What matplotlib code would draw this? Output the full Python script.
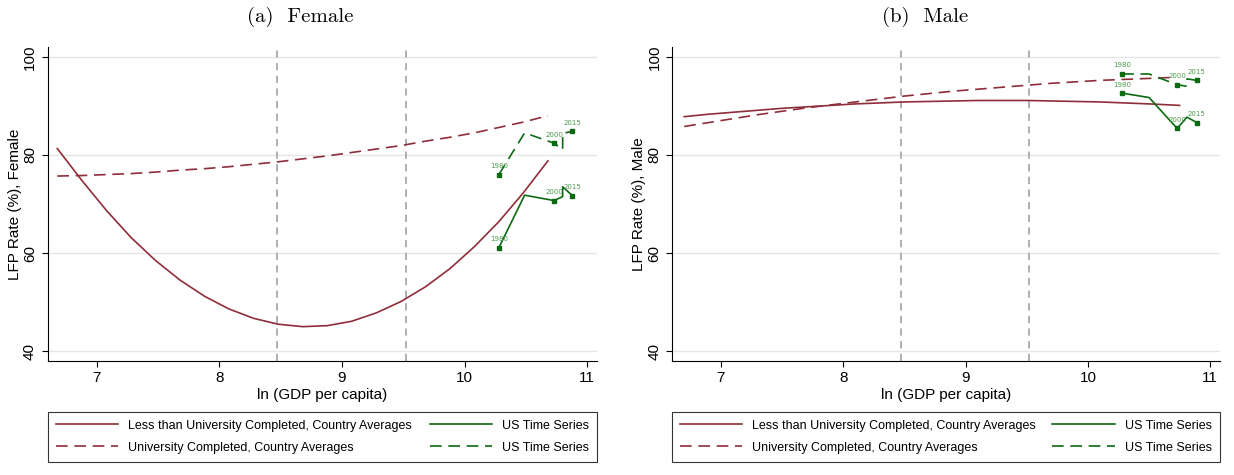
import numpy as np
import matplotlib.pyplot as plt

plt.rcParams['font.family'] = ['Liberation Sans', 'DejaVu Sans']

# ---- data ----
# country-average quadratic fits, female
f_less_x = [6.68, 6.88, 7.08, 7.28, 7.48, 7.68, 7.88, 8.08, 8.28, 8.48, 8.68,
            8.88, 9.08, 9.28, 9.48, 9.68, 9.88, 10.08, 10.28, 10.48, 10.68]
f_less_y = [81.3, 74.8, 68.7, 63.2, 58.5, 54.5, 51.2, 48.6, 46.7, 45.5, 45.0,
            45.2, 46.1, 47.8, 50.1, 53.1, 56.8, 61.3, 66.4, 72.3, 78.8]
f_univ_x = [6.68, 6.88, 7.08, 7.28, 7.48, 7.68, 7.88, 8.08, 8.28, 8.48, 8.68,
            8.88, 9.08, 9.28, 9.48, 9.68, 9.88, 10.08, 10.28, 10.48, 10.68]
f_univ_y = [75.7, 75.8, 76.0, 76.2, 76.5, 76.9, 77.2, 77.6, 78.1, 78.6, 79.2,
            79.8, 80.5, 81.2, 81.9, 82.8, 83.6, 84.5, 85.6, 86.7, 88.0]

# country-average quadratic fits, male
m_less_x = [6.70, 6.90, 7.10, 7.30, 7.50, 7.70, 7.90, 8.10, 8.30, 8.50, 8.70,
            8.90, 9.10, 9.30, 9.50, 9.70, 9.90, 10.10, 10.30, 10.50, 10.75]
m_less_y = [87.8, 88.3, 88.7, 89.1, 89.5, 89.8, 90.1, 90.4, 90.6, 90.8, 90.9,
            91.0, 91.1, 91.1, 91.1, 91.0, 90.9, 90.8, 90.6, 90.4, 90.1]
m_univ_x = [6.70, 6.90, 7.10, 7.30, 7.50, 7.70, 7.90, 8.10, 8.30, 8.50, 8.70,
            8.90, 9.10, 9.30, 9.50, 9.70, 9.90, 10.10, 10.30, 10.50, 10.69]
m_univ_y = [85.8, 86.6, 87.4, 88.2, 88.9, 89.6, 90.2, 90.8, 91.4, 92.0, 92.5,
            93.0, 93.4, 93.8, 94.2, 94.6, 94.9, 95.2, 95.4, 95.6, 95.8]

# US time series: 1980, 1990, 2000, 2005, 2010, 2015
us_years = [1980, 1990, 2000, 2005, 2010, 2015]
us_x = [10.28, 10.49, 10.73, 10.80, 10.80, 10.88]
us_f_less = [61.1, 71.8, 70.7, 71.5, 73.5, 71.7]
us_f_univ = [76.0, 84.5, 82.4, 81.1, 84.4, 84.8]
us_m_x = [10.28, 10.50, 10.73, 10.81, 10.81, 10.89]
us_m_less = [92.6, 91.7, 85.4, 87.7, 87.7, 86.6]
us_m_univ = [96.5, 96.5, 94.3, 94.0, 95.5, 95.2]
labelled = [1980, 2000, 2015]

vlines = [8.47, 9.52]

red = '#8f2d3a'
green = '#0b6a12'
lblgreen = '#4d9a4d'

fig = plt.figure(figsize=(12.34, 4.75), dpi=100)
ax1 = fig.add_axes([47.5/1234, 1-361/475, (597-47.5)/1234, (361-47)/475])
ax2 = fig.add_axes([672/1234, 1-361/475, (1220-672)/1234, (361-47)/475])


def panel(ax, less_x, less_y, univ_x, univ_y, ux, us_less, us_univ, ylab):
    for y in [40, 60, 80, 100]:
        ax.axhline(y, color='#e6e6e6', lw=1.0, zorder=0)
    for v in vlines:
        ax.axvline(v, color='#a9a9a9', lw=1.3, dashes=(4, 3), zorder=1)
    ax.plot(less_x, less_y, color=red, lw=1.2,
            label='Less than University Completed, Country Averages')
    ax.plot(univ_x, univ_y, color=red, lw=1.2, dashes=(7, 4),
            label='University Completed, Country Averages')
    ax.plot(ux, us_less, color=green, lw=1.2, label='US Time Series')
    ax.plot(ux, us_univ, color=green, lw=1.2, dashes=(7, 4), label='US Time Series')
    for i, yr in enumerate(us_years):
        if yr in labelled:
            for yy in (us_less[i], us_univ[i]):
                ax.plot(ux[i], yy, 's', color=green, ms=2.5)
                ax.annotate(str(yr), (ux[i], yy), xytext=(0, 4),
                            textcoords='offset points', ha='center', va='bottom',
                            fontsize=5, color=lblgreen,
                            family=['DejaVu Sans Condensed', 'DejaVu Sans'])
    ax.set_xlim(6.6, 11.08)
    ax.set_ylim(38, 102)
    ax.set_xticks([7, 8, 9, 10, 11])
    ax.set_yticks([40, 60, 80, 100])
    ax.tick_params(axis='both', labelsize=11, length=4, width=0.8, direction='out')
    for lab in ax.get_yticklabels():
        lab.set_rotation(90)
        lab.set_va('center')
    ax.spines['top'].set_visible(False)
    ax.spines['right'].set_visible(False)
    ax.set_xlabel('ln (GDP per capita)', fontsize=11, labelpad=2)
    ax.set_ylabel(ylab, fontsize=11, labelpad=1)
    h, l = ax.get_legend_handles_labels()
    leg = ax.legend(h, l, loc='upper left', bbox_to_anchor=(0, -0.162, 1, 0),
                    mode='expand', ncol=2, fontsize=9, frameon=True,
                    fancybox=False, edgecolor='black', borderaxespad=0,
                    handlelength=5.0, labelspacing=0.79, borderpad=0.64)
    leg.get_frame().set_linewidth(0.8)


panel(ax1, f_less_x, f_less_y, f_univ_x, f_univ_y, us_x, us_f_less, us_f_univ,
      'LFP Rate (%), Female')
panel(ax2, m_less_x, m_less_y, m_univ_x, m_univ_y, us_m_x, us_m_less, us_m_univ,
      'LFP Rate (%), Male')

fig.text(300/1234, 1-17/475, '(a)  Female', ha='center', va='center',
         fontsize=15, family=['cmr10', 'DejaVu Serif'])
fig.text(925/1234, 1-17/475, '(b)  Male', ha='center', va='center',
         fontsize=15, family=['cmr10', 'DejaVu Serif'])

fig.savefig('out.png', dpi=100)
